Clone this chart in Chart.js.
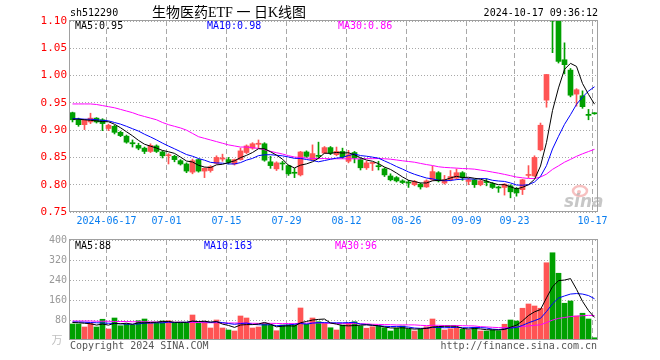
<!DOCTYPE html>
<html><head><meta charset="utf-8">
<script src="https://cdn.jsdelivr.net/npm/chart.js@4.4.1/dist/chart.umd.min.js"></script>
<style>
html,body{margin:0;padding:0;background:#fff;}
#wrap{position:relative;width:660px;height:360px;overflow:hidden;background:#fff;}
canvas{position:absolute;left:0;top:0;}
</style></head><body>
<div id="wrap">
<canvas id="price" width="660" height="360"></canvas>
<canvas id="vol" width="660" height="360"></canvas>
</div>
<script>
// ---------- data ----------
const opens  = [0.932,0.919,0.910,0.915,0.922,0.919,0.903,0.907,0.896,0.889,
                0.877,0.872,0.867,0.861,0.871,0.860,0.853,0.852,0.844,0.838,
                0.823,0.846,0.825,0.826,0.839,0.847,0.846,0.838,0.846,0.859,
                0.867,0.874,0.875,0.842,0.829,0.839,0.835,0.822,0.818,0.860,
                0.846,0.853,0.858,0.868,0.855,0.861,0.843,0.859,0.846,0.831,
                0.839,0.834,0.829,0.816,0.813,0.807,0.804,0.800,0.801,0.796,
                0.809,0.822,0.803,0.809,0.812,0.822,0.806,0.809,0.800,0.805,
                0.802,0.795,0.795,0.798,0.793,0.791,0.817,0.816,0.864,0.955,
                1.102,1.100,1.029,1.010,0.966,0.963,0.929,0.931];
const highs  = [0.933,0.922,0.920,0.931,0.923,0.921,0.911,0.909,0.898,0.891,
                0.882,0.876,0.869,0.875,0.873,0.862,0.857,0.854,0.846,0.840,
                0.847,0.847,0.831,0.835,0.853,0.856,0.850,0.847,0.867,0.873,
                0.877,0.882,0.877,0.852,0.842,0.843,0.836,0.830,0.861,0.862,
                0.873,0.878,0.870,0.870,0.869,0.867,0.863,0.861,0.849,0.843,
                0.841,0.843,0.831,0.820,0.815,0.809,0.808,0.808,0.803,0.809,
                0.834,0.824,0.817,0.826,0.829,0.824,0.812,0.810,0.809,0.811,
                0.804,0.797,0.802,0.800,0.795,0.810,0.835,0.853,0.913,1.002,
                1.102,1.102,1.060,1.013,0.976,0.972,0.938,0.932];
const lows   = [0.915,0.907,0.901,0.912,0.913,0.899,0.899,0.893,0.888,0.876,
                0.869,0.864,0.857,0.859,0.859,0.849,0.838,0.842,0.836,0.822,
                0.820,0.823,0.813,0.823,0.838,0.843,0.838,0.836,0.845,0.857,
                0.865,0.867,0.843,0.830,0.826,0.827,0.817,0.813,0.816,0.850,
                0.845,0.848,0.857,0.855,0.853,0.848,0.840,0.840,0.827,0.828,
                0.826,0.827,0.815,0.807,0.805,0.802,0.795,0.798,0.792,0.795,
                0.808,0.805,0.801,0.807,0.810,0.808,0.800,0.795,0.798,0.798,
                0.793,0.786,0.781,0.776,0.779,0.782,0.813,0.815,0.862,0.942,
                1.042,1.023,1.003,0.961,0.944,0.940,0.919,0.929];
const closes = [0.919,0.910,0.919,0.922,0.915,0.912,0.909,0.896,0.890,0.878,
                0.875,0.867,0.861,0.872,0.861,0.853,0.855,0.846,0.838,0.825,
                0.844,0.825,0.830,0.833,0.850,0.849,0.841,0.846,0.862,0.871,
                0.875,0.876,0.845,0.835,0.840,0.838,0.820,0.821,0.860,0.852,
                0.857,0.852,0.868,0.858,0.861,0.851,0.855,0.849,0.831,0.840,
                0.840,0.833,0.818,0.809,0.807,0.804,0.803,0.806,0.796,0.807,
                0.824,0.807,0.809,0.815,0.822,0.813,0.809,0.800,0.807,0.804,
                0.795,0.794,0.801,0.787,0.785,0.809,0.818,0.850,0.909,1.002,
                1.100,1.026,1.020,0.964,0.974,0.943,0.927,0.930];
const volumes = [64,64,52,67,52,83,44,88,57,64, 60,77,84,67,67,76,77,67,67,67,
                 100,67,75,48,80,48,40,36,96,88, 48,52,67,60,37,60,60,60,128,63,
                 88,73,67,49,40,60,67,73,56,47, 53,56,49,36,47,56,43,36,43,53,
                 84,53,40,45,51,43,40,51,36,36, 40,37,63,80,76,127,144,136,127,309,
                 349,267,147,156,96,107,84,9];
// moving-average values before enough bars exist
const ma5Head  = [0.920,0.920,0.919,0.918];
const ma10Head = [0.921,0.921,0.920,0.920,0.919,0.918,0.917,0.914,0.911];
const ma30Head = [0.948,0.948,0.948,0.948,0.947,0.945,0.943,0.941,0.938,0.935,
                  0.932,0.928,0.925,0.922,0.919,0.914,0.910,0.907,0.904,0.900,
                  0.894,0.888,0.885,0.882,0.879,0.876,0.873,0.871,0.869];
const vma5Head  = [70,69,67,65];
const vma10Head = [72,72,71,70,69,68,67,66,65];
const vma30Head = [76,76,76,76,75,75,75,74,74,74,73,73,73,72,72,72,71,71,71,70,
                   70,70,69,69,69,68,68,68,68];
// axis labels
const gridIdx    = [6,16,26,36,46,56,66,74,87];
const dateLabels = ["2024-06-17","07-01","07-15","07-29","08-12","08-26","09-09","09-23","10-17"];
const priceTicks = [0.75,0.80,0.85,0.90,0.95,1.00,1.05,1.10];
const volTicks   = [80,160,240,320,400];
const priceLegend = ["MA5:0.95","MA10:0.98","MA30:0.86"];
const volLegend   = ["MA5:88","MA10:163","MA30:96"];
const header = {code:"sh512290", title:"生物医药ETF 一 日K线图", stamp:"2024-10-17 09:36:12"};

// ---------- derived ----------
const RED = '#ff5454', GREEN = '#00a000';
const N = closes.length;
const idx = closes.map((_, i) => i);
const col = idx.map(i => closes[i] >= opens[i] ? RED : GREEN);
function movAvg(arr, n, head) {
  return arr.map((v, i) => {
    if (i < head.length) return head[i];
    let s = 0; for (let k = i - n + 1; k <= i; k++) s += arr[k];
    return s / n;
  });
}
const ma5 = movAvg(closes, 5, ma5Head), ma10 = movAvg(closes, 10, ma10Head), ma30 = movAvg(closes, 30, ma30Head);
const vma5 = movAvg(volumes, 5, vma5Head), vma10 = movAvg(volumes, 10, vma10Head), vma30 = movAvg(volumes, 30, vma30Head);
const pts = a => a.map((y, i) => ({x: i, y}));

const LEFT = 70, RIGHT = 597, SLOT = 6, FIRST = 72.5;
const xMin = -(FIRST - LEFT) / SLOT;
const xMax = xMin + (RIGHT - LEFT) / SLOT;
const MONO = '"DejaVu Sans Mono", monospace';
const GRIDC = '#a8a8a8';

function xScale(height, showLabels) {
  return {
    type: 'linear', min: xMin, max: xMax, offset: false,
    grid: {offset: false, color: GRIDC, lineWidth: 1, drawTicks: false},
    border: {display: false, dash: [5, 3]},
    afterBuildTicks: s => { s.ticks = gridIdx.map(v => ({value: v - 1/3})); },
    afterFit: s => { s.height = height; },
    ticks: {display: showLabels, autoSkip: false, maxRotation: 0, minRotation: 0, padding: 3,
            color: '#0a7ef0', font: {family: MONO, size: 10},
            callback: (v, i) => dateLabels[i]}
  };
}
function textPlugin(items, frame) {
  return {
    id: 'deco',
    afterDraw(chart) {
      const ctx = chart.ctx, a = chart.chartArea;
      ctx.save();
      ctx.strokeStyle = '#a0a0a0'; ctx.lineWidth = 1; ctx.setLineDash([]);
      ctx.strokeRect(a.left - 0.5, frame[0], a.right - a.left + 1, frame[1]);
      ctx.textBaseline = 'middle';
      for (const t of items) {
        ctx.font = t.f; ctx.fillStyle = t.c; ctx.textAlign = t.a || 'left';
        ctx.fillText(t.t, t.x, t.y);
      }
      ctx.restore();
    }
  };
}
const F10 = '10px ' + MONO;

// ---------- price chart ----------
const priceDeco = textPlugin([
  {t: header.code, x: 70, y: 13, c: '#000', f: F10},
  {t: header.title, x: 152, y: 13, c: '#000', f: '14px "Liberation Serif", "Noto Sans CJK SC"'},
  {t: header.stamp, x: 598, y: 13, c: '#000', f: F10, a: 'right'},
  {t: priceLegend[0], x: 75, y: 26, c: '#000', f: F10},
  {t: priceLegend[1], x: 207, y: 26, c: '#0000ff', f: F10},
  {t: priceLegend[2], x: 338, y: 26, c: '#ff00ff', f: F10},
], [20.5, 191]);
const sinaMark = {
  id: 'sina',
  beforeDatasetsDraw(chart) {
    const ctx = chart.ctx;
    ctx.save();
    ctx.strokeStyle = 'rgba(240,140,140,0.55)'; ctx.lineWidth = 2.5;
    ctx.beginPath(); ctx.ellipse(580, 191, 7, 5, 0, 0, Math.PI * 2); ctx.stroke();
    ctx.fillStyle = 'rgba(240,140,140,0.55)';
    ctx.beginPath(); ctx.arc(579, 192, 2, 0, Math.PI * 2); ctx.fill();
    ctx.font = 'italic bold 17px "DejaVu Sans", sans-serif';
    ctx.fillStyle = 'rgba(175,175,175,0.7)'; ctx.textBaseline = 'middle'; ctx.textAlign = 'left';
    ctx.fillText('sina', 564, 203);
    ctx.restore();
  }
};
new Chart(document.getElementById('price'), {
  data: {
    datasets: [
      {type: 'line', data: pts(ma5), borderColor: '#000000', borderWidth: 1, pointRadius: 0, order: 0},
      {type: 'line', data: pts(ma10), borderColor: '#0000ff', borderWidth: 1, pointRadius: 0, order: 0},
      {type: 'line', data: pts(ma30), borderColor: '#ff00ff', borderWidth: 1, pointRadius: 0, order: 0},
      {type: 'bar', data: idx.map(i => ({x: i, y: [opens[i], closes[i]]})), backgroundColor: col,
       barThickness: 5, minBarLength: 1, grouped: false, order: 2},
      {type: 'bar', data: idx.map(i => ({x: i, y: [lows[i], highs[i]]})), backgroundColor: col,
       barThickness: 1, grouped: false, order: 3}
    ]
  },
  options: {
    responsive: false, animation: false, events: [],
    layout: {padding: {left: 0, top: 21, right: 660 - RIGHT, bottom: 0}},
    plugins: {legend: {display: false}, tooltip: {enabled: false}},
    scales: {
      x: xScale(148, true),
      y: {type: 'linear', position: 'left', min: 0.75, max: 1.10,
          grid: {color: GRIDC, drawTicks: false}, border: {display: false, dash: [1, 2]},
          afterBuildTicks: s => { s.ticks = priceTicks.map(v => ({value: v})); },
          afterFit: s => { s.width = LEFT; },
          ticks: {padding: 3, color: '#ff0000', font: {family: MONO, size: 11}, callback: v => v.toFixed(2)}}
    }
  },
  plugins: [sinaMark, priceDeco]
});

// ---------- volume chart ----------
const volDeco = textPlugin([
  {t: volLegend[0], x: 75, y: 246, c: '#000', f: F10},
  {t: volLegend[1], x: 204, y: 246, c: '#0000ff', f: F10},
  {t: volLegend[2], x: 335, y: 246, c: '#ff00ff', f: F10},
  {t: '万', x: 57, y: 340, c: '#c0c0c0', f: '11px "Noto Sans CJK SC"', a: 'center'},
  {t: 'Copyright 2024 SINA.COM', x: 70, y: 346, c: '#555', f: F10},
  {t: 'http://finance.sina.com.cn', x: 597, y: 346, c: '#555', f: F10, a: 'right'},
], [239.5, 100]);
new Chart(document.getElementById('vol'), {
  data: {
    datasets: [
      {type: 'line', data: pts(vma5), borderColor: '#000000', borderWidth: 1, pointRadius: 0, order: 0},
      {type: 'line', data: pts(vma10), borderColor: '#0000ff', borderWidth: 1, pointRadius: 0, order: 0},
      {type: 'line', data: pts(vma30), borderColor: '#ff00ff', borderWidth: 1, pointRadius: 0, order: 0},
      {type: 'bar', data: idx.map(i => ({x: i, y: volumes[i]})), backgroundColor: col,
       barThickness: 5, grouped: false, order: 2}
    ]
  },
  options: {
    responsive: false, animation: false, events: [],
    layout: {padding: {left: 0, top: 240, right: 660 - RIGHT, bottom: 0}},
    plugins: {legend: {display: false}, tooltip: {enabled: false}},
    scales: {
      x: xScale(20, false),
      y: {type: 'linear', position: 'left', min: 0, max: 400,
          grid: {color: GRIDC, drawTicks: false}, border: {display: false, dash: [1, 2]},
          afterBuildTicks: s => { s.ticks = volTicks.map(v => ({value: v})); },
          afterFit: s => { s.width = LEFT; },
          ticks: {padding: 3, color: '#999999', font: {family: MONO, size: 10}, callback: v => String(v)}}
    }
  },
  plugins: [volDeco]
});
</script>
</body></html>
